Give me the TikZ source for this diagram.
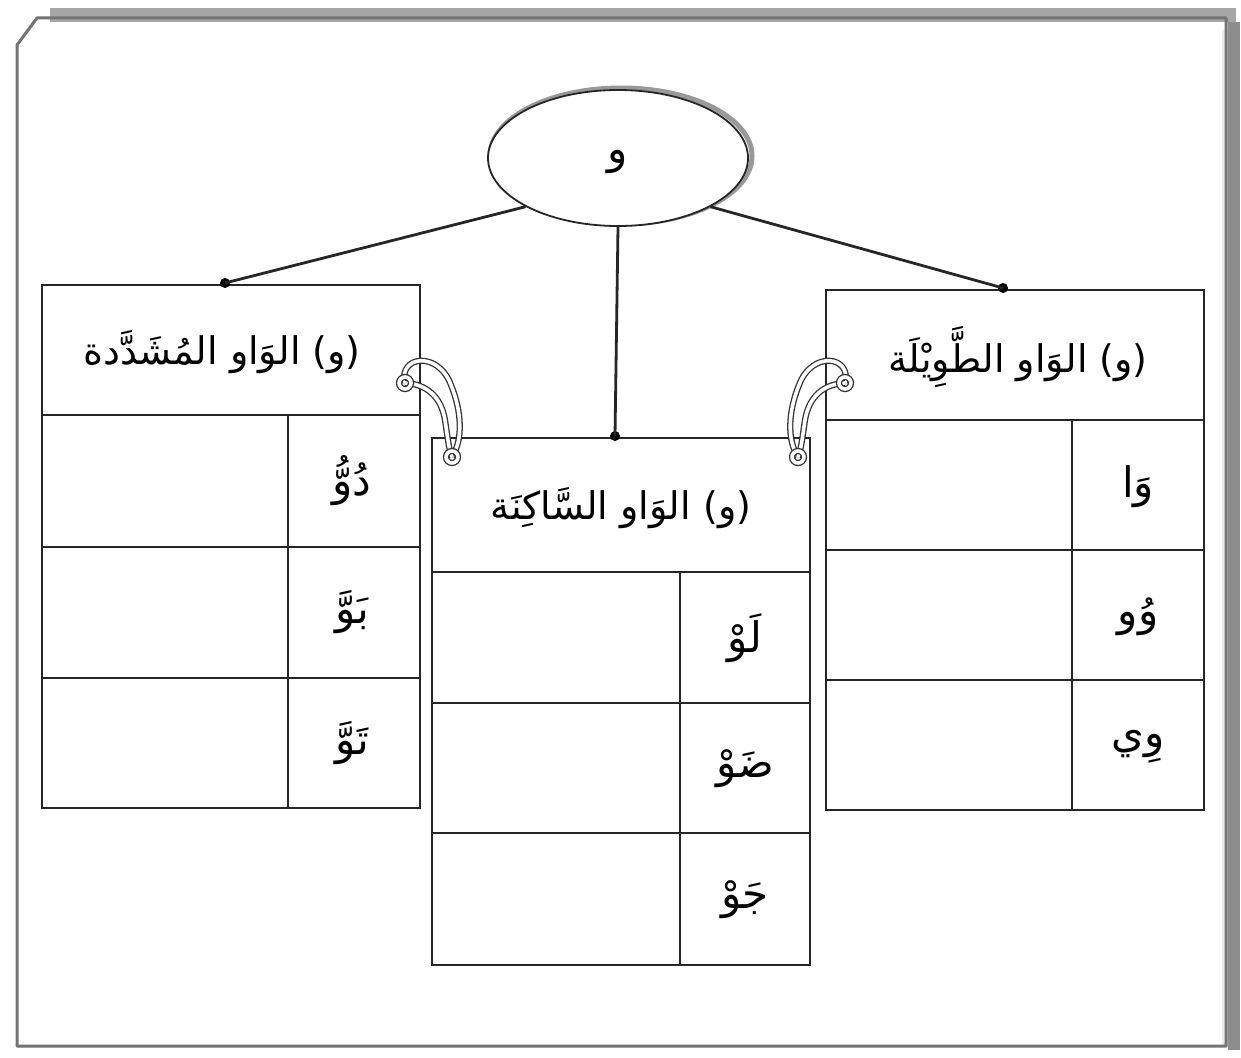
\documentclass[tikz,border=0pt]{standalone}
\usepackage{fontspec}
\newfontfamily\arabicfont[Script=Arabic]{DejaVu Sans}
\TeXXeTstate=1
\usetikzlibrary{shapes.geometric}
\begin{document}
\begin{tikzpicture}[x=1pt,y=-1pt,
  tbl/.style={draw=black!85, line width=2.2pt},
  hdr/.style={font=\arabicfont\fontsize{38}{44}\selectfont, inner sep=0pt},
  cell/.style={font=\arabicfont\fontsize{42}{48}\selectfont, inner sep=0pt},
  dotc/.style={fill=black, circle, inner sep=0pt, minimum size=10pt},
  conn/.style={line width=2.8pt, draw=black!85},
  rope/.style={draw=black!80, line width=1.3pt, double=white, double distance=3.6pt},
  frame/.style={draw=black!55, line width=3pt}]
\useasboundingbox (0,0) rectangle (1241,1057);
\fill[white] (0,0) rectangle (1241,1057);
% page frame
\fill[black!35] (50,8) rectangle (1236,22);
\fill[black!45] (1228,22) rectangle (1240,1050);
\fill[black!8] (1222,30) rectangle (1228,1046);
\draw[frame, line join=round] (17,1046) -- (17,45) -- (37,18) -- (1226,18) -- (1226,1046) -- cycle;
% top ellipse
\draw[draw=black!40, line width=5pt] (621,156) ellipse [x radius=131, y radius=68];
\node[ellipse, draw=black!85, line width=1.8pt, fill=white, minimum width=260pt, minimum height=136pt, inner sep=0pt] (e) at (618,158) {};
\node[cell] (etxt) at (618,162) {\beginR و\endR};
% left table
\draw[tbl] (42,285) rectangle (420,808);
\draw[tbl] (42,415) -- (420,415) (42,547) -- (420,547) (42,678) -- (420,678) (288,415) -- (288,808);
\node[hdr] (lh) at (222,352) {\beginR (و) الوَاو المُشَدَّدة\endR};
\node[cell] (l1) at (352,481) {\beginR دُوُّ\endR};
\node[cell] (l2) at (352,612) {\beginR بَوَّ\endR};
\node[cell] (l3) at (352,743) {\beginR تَوَّ\endR};
% right table
\draw[tbl] (826,290) rectangle (1204,810);
\draw[tbl] (826,420) -- (1204,420) (826,550) -- (1204,550) (826,680) -- (1204,680) (1072,420) -- (1072,810);
\node[hdr] (rh) at (1018,357) {\beginR (و) الوَاو الطَّوِيْلَة\endR};
\node[cell] (r1) at (1138,487) {\beginR وَا\endR};
\node[cell] (r2) at (1138,617) {\beginR وُو\endR};
\node[cell] (r3) at (1138,747) {\beginR وِي\endR};
% middle table
\draw[tbl, fill=white] (432,438) rectangle (810,965);
\draw[tbl] (432,572) -- (810,572) (432,703) -- (810,703) (432,833) -- (810,833) (680,572) -- (680,965);
\node[hdr] (mh) at (621,508) {\beginR (و) الوَاو السَّاكِنَة\endR};
\node[cell] (m1) at (745,638) {\beginR لَوْ\endR};
\node[cell] (m2) at (745,769) {\beginR ضَوْ\endR};
\node[cell] (m3) at (745,900) {\beginR جَوْ\endR};
% connectors
\node[dotc] (dl) at (225,283) {};
\node[dotc] (dr) at (1003,288) {};
\node[dotc] (dm) at (615,436) {};
\draw[conn] (e.south west) -- (dl.center);
\draw[conn] (e.south east) -- (dr.center);
\draw[conn] (e.south) -- (dm.center);
% rope loops
\draw[rope] (405,383) .. controls (398,356) and (438,350) .. (451,385) .. controls (462,412) and (463,440) .. (452,457);
\draw[rope] (405,383) .. controls (426,384) and (441,396) .. (445,420) .. controls (448,440) and (449,450) .. (452,457);
\draw[rope] (405,383) circle (6);
\draw[rope] (452,457) circle (6);
\begin{scope}[xshift=1250pt, xscale=-1]
\draw[rope] (405,383) .. controls (398,356) and (438,350) .. (451,385) .. controls (462,412) and (463,440) .. (452,457);
\draw[rope] (405,383) .. controls (426,384) and (441,396) .. (445,420) .. controls (448,440) and (449,450) .. (452,457);
\draw[rope] (405,383) circle (6);
\draw[rope] (452,457) circle (6);
\end{scope}
\end{tikzpicture}
\end{document}
